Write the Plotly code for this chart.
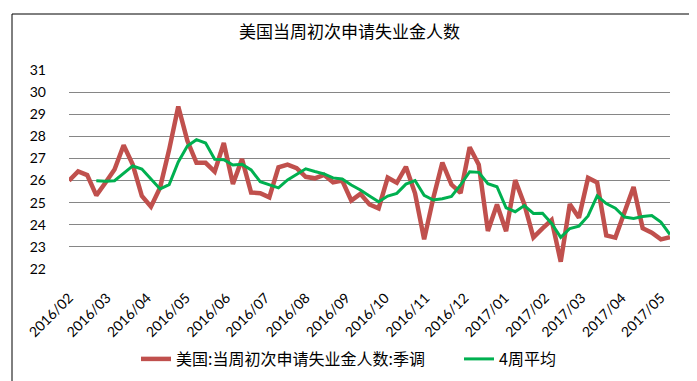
import pandas as pd
import plotly.graph_objects as go

# weekly observation dates (Saturdays), 67 weeks
start_date = "2016-02-06"
n_weeks = 67
dates = pd.date_range(start_date, periods=n_weeks, freq="7D")

claims_sa = [26.0, 26.41, 26.25, 25.33, 25.9, 26.5, 27.6, 26.72, 25.3, 24.82,
             25.68, 27.4, 29.35, 27.8, 26.8, 26.8, 26.4, 27.7, 25.84, 26.97,
             25.46, 25.43, 25.24, 26.6, 26.72, 26.56, 26.17, 26.1, 26.26, 25.92,
             26.0, 25.1, 25.4, 24.92, 24.74, 26.13, 25.9, 26.62, 25.42, 23.34,
             25.2, 26.81, 25.82, 25.44, 27.51, 26.72, 23.72, 24.92, 23.71, 26.02,
             24.93, 23.43, 23.84, 24.21, 22.33, 24.93, 24.32, 26.12, 25.91, 23.52,
             23.42, 24.55, 25.71, 23.84, 23.64, 23.34, 23.44]

avg4 = [None, None, None,
        25.99, 25.97, 25.99, 26.32, 26.66, 26.52, 26.09, 25.62, 25.82, 26.84,
        27.56, 27.85, 27.7, 26.96, 26.94, 26.7, 26.74, 26.48, 25.95, 25.8,
        25.67, 26.03, 26.3, 26.53, 26.41, 26.3, 26.12, 26.07, 25.8, 25.57,
        25.3, 25.04, 25.3, 25.42, 25.84, 26.0, 25.33, 25.12, 25.18, 25.28,
        25.8, 26.4, 26.37, 25.86, 25.72, 24.77, 24.59, 24.87, 24.51, 24.52,
        24.06, 23.43, 23.83, 23.94, 24.4, 25.31, 24.96, 24.75, 24.35, 24.29,
        24.37, 24.42, 24.12, 23.56]

title_text = "美国当周初次申请失业金人数"
name_red = "美国:当周初次申请失业金人数:季调"
name_green = "4周平均"
y_ticks = [22, 23, 24, 25, 26, 27, 28, 29, 30, 31]

W, H = 697, 381
L, R, T, B = 61, 35, 62, 120
pw = W - L - R
ph = H - T - B

fig = go.Figure()
fig.add_trace(go.Scatter(x=dates, y=claims_sa, mode="lines", name=name_red,
                         line=dict(color="#C0504D", width=4.5), legend="legend"))
fig.add_trace(go.Scatter(x=dates, y=avg4, mode="lines", name=name_green,
                         line=dict(color="#00B050", width=3), legend="legend2"))

def px_x(p):
    return (p - L) / pw

def px_y(p):
    return (H - B - p) / ph

fig.add_shape(type="rect", xref="paper", yref="paper",
              x0=px_x(4), x1=px_x(692), y0=px_y(376), y1=px_y(6),
              line=dict(color="#000000", width=1), fillcolor="rgba(0,0,0,0)",
              layer="below")

legend_font = dict(family="Noto Sans CJK SC", size=16, color="#000000")

fig.update_layout(
    width=W, height=H,
    margin=dict(l=L, r=R, t=T, b=B),
    paper_bgcolor="white", plot_bgcolor="white",
    title=dict(text=title_text, x=0.49, xanchor="center", xref="container",
               y=1 - 24 / H, yanchor="middle", yref="container",
               font=dict(family="Noto Sans CJK SC", size=17, color="#000000")),
    xaxis=dict(type="date", range=[dates[0], dates[-1]], tick0=start_date,
               dtick="M1", tickformat="%Y/%m", tickangle=-45,
               showgrid=False, zeroline=False, showline=False, ticks="",
               ticklabelstandoff=17,
               tickfont=dict(family="Lato", size=14, color="#000000")),
    yaxis=dict(range=[22, 31], tickvals=y_ticks, showgrid=True,
               gridcolor="#868686", gridwidth=1, zeroline=False, showline=False,
               ticks="", ticklabelstandoff=22,
               tickfont=dict(family="Lato", size=14, color="#000000")),
    legend=dict(orientation="h", x=px_x(128), xanchor="left",
                y=px_y(351), yanchor="middle", bgcolor="rgba(0,0,0,0)",
                font=legend_font),
    legend2=dict(orientation="h", x=px_x(451), xanchor="left",
                 y=px_y(351), yanchor="middle", bgcolor="rgba(0,0,0,0)",
                 font=legend_font),
    showlegend=True,
)

fig.write_html("out.html")
